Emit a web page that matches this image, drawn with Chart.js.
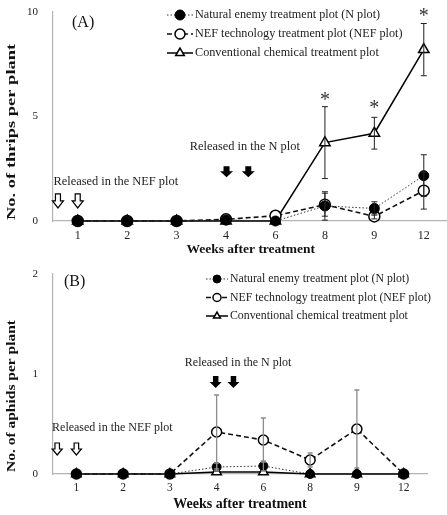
<!DOCTYPE html>
<html>
<head>
<meta charset="utf-8">
<script src="https://cdn.jsdelivr.net/npm/chart.js@4.4.0/dist/chart.umd.min.js"></script>
<style>
  html, body { margin: 0; padding: 0; background: #fff; overflow: hidden; }
  #wrap { position: relative; width: 447px; height: 515px; overflow: hidden; }
  .panel { position: absolute; left: 0; }
</style>
</head>
<body>
<div id="wrap">
  <div class="panel" style="top:0;width:456px;height:258px"><canvas id="chart-a"></canvas></div>
  <div class="panel" style="top:258px;width:447px;height:257px"><canvas id="chart-b"></canvas></div>
</div>
<script>
const weeks = ['1', '2', '3', '4', '6', '8', '9', '12'];
const seriesLabels = [
  'Natural enemy treatment plot (N plot)',
  'NEF technology treatment plot (NEF plot)',
  'Conventional chemical treatment plot'
];

// (A) thrips
const thripsN       = [0, 0, 0, 0.05, 0, 0.72, 0.6, 2.17];
const thripsNErr    = [0, 0, 0, 0, 0, 0.68, 0.32, 1.0];
const thripsNEF     = [0, 0, 0, 0.08, 0.25, 0.78, 0.22, 1.45];
const thripsNEFErr  = [0, 0, 0, 0, 0, 0.55, 0.12, 0.88];
const thripsConv    = [0, 0, 0, 0, 0, 3.75, 4.2, 8.2];
const thripsConvErr = [0, 0, 0, 0, 0, 1.72, 0.76, 1.25];
const thripsStars   = [null, null, null, null, null, 6.0, 5.6, 10.0];
const thripsTicks   = [0, 5, 10];

// (B) aphids
const aphidsN       = [0, 0, 0, 0.07, 0.08, 0, 0, 0];
const aphidsNErr    = [0, 0, 0, 0.04, 0.05, 0, 0, 0];
const aphidsNEF     = [0, 0, 0, 0.42, 0.34, 0.14, 0.45, 0];
const aphidsNEFErr  = [0, 0, 0, 0.37, 0.22, 0.07, 0.39, 0];
const aphidsConv    = [0, 0, 0, 0.02, 0.02, 0, 0, 0];
const aphidsTicks   = [0, 1, 2];

const serif = "'Liberation Serif', 'Times New Roman', serif";
const axisColor = '#b4b4b4';
const textColor = '#222';

function makeDatasets(n, nErr, nef, nefErr, conv, convErr, r) {
  return [
    {
      label: seriesLabels[0], data: n, errors: nErr,
      borderColor: '#333', borderWidth: 1, borderDash: [1.5, 2],
      pointStyle: 'circle', pointRadius: r, pointBackgroundColor: '#000',
      pointBorderColor: '#000', pointBorderWidth: 1, clip: false
    },
    {
      label: seriesLabels[1], data: nef, errors: nefErr,
      borderColor: '#111', borderWidth: 1.6, borderDash: [5, 3],
      pointStyle: 'circle', pointRadius: r + 0.5, pointBackgroundColor: '#fff',
      pointBorderColor: '#000', pointBorderWidth: 1.5, clip: false
    },
    {
      label: seriesLabels[2], data: conv, errors: convErr,
      borderColor: '#000', borderWidth: 1.5,
      pointStyle: 'triangle', pointRadius: r + 1, pointBackgroundColor: '#fff',
      pointBorderColor: '#000', pointBorderWidth: 1.5, clip: false
    }
  ];
}

function drawArrow(ctx, x, y, a) {
  const h = a.h, hh = a.hh, sw = a.sw / 2, hw = a.hw / 2;
  const top = y - h / 2, neck = top + (h - hh), tip = y + h / 2;
  ctx.beginPath();
  ctx.moveTo(x - sw, top); ctx.lineTo(x + sw, top); ctx.lineTo(x + sw, neck);
  ctx.lineTo(x + hw, neck); ctx.lineTo(x, tip); ctx.lineTo(x - hw, neck);
  ctx.lineTo(x - sw, neck); ctx.closePath();
  if (a.filled) { ctx.fillStyle = '#000'; ctx.fill(); }
  else { ctx.fillStyle = '#fff'; ctx.fill(); ctx.strokeStyle = '#000'; ctx.lineWidth = 1.2; ctx.stroke(); }
}

const extrasPlugin = {
  id: 'extras',
  afterDatasetsDraw(chart, args, o) {
    const ctx = chart.ctx, xs = chart.scales.x, ys = chart.scales.y, area = chart.chartArea;
    ctx.save();
    // error bars
    chart.data.datasets.forEach((ds, di) => {
      if (!ds.errors) return;
      const meta = chart.getDatasetMeta(di);
      ctx.strokeStyle = o.errColor; ctx.lineWidth = o.errWidth; ctx.setLineDash([]);
      ds.data.forEach((v, i) => {
        const e = ds.errors[i];
        if (!e) return;
        const x = meta.data[i].x;
        const y1 = ys.getPixelForValue(v + e), y2 = ys.getPixelForValue(Math.max(0, v - e));
        ctx.beginPath();
        ctx.moveTo(x, y1); ctx.lineTo(x, y2);
        ctx.moveTo(x - o.cap, y1); ctx.lineTo(x + o.cap, y1);
        ctx.moveTo(x - o.cap, y2); ctx.lineTo(x + o.cap, y2);
        ctx.stroke();
      });
    });
    // significance stars
    if (o.stars) {
      ctx.fillStyle = '#333'; ctx.font = '20px ' + serif; ctx.textAlign = 'center'; ctx.textBaseline = 'alphabetic';
      const m = ctx.measureText('*');
      const dy = (m.actualBoundingBoxAscent - m.actualBoundingBoxDescent) / 2;
      o.stars.forEach((v, i) => {
        if (v == null) return;
        ctx.fillText('*', xs.getPixelForValue(i), ys.getPixelForValue(v) + dy);
      });
    }
    // release arrows
    o.arrows.forEach(a => drawArrow(ctx, xs.getPixelForValue(a.x), ys.getPixelForValue(a.y), a));
    // notes
    ctx.fillStyle = textColor; ctx.textBaseline = 'middle'; ctx.textAlign = 'center';
    o.notes.forEach(n => {
      ctx.font = n.size + 'px ' + serif;
      ctx.fillText(n.text, xs.getPixelForValue(n.x), ys.getPixelForValue(n.y));
    });
    // panel label
    ctx.textAlign = 'left'; ctx.font = o.panel.size + 'px ' + serif; ctx.fillStyle = '#111';
    ctx.fillText(o.panel.text, area.left + o.panel.dx, area.top + o.panel.dy);
    // legend with line samples
    const lg = o.legend;
    chart.data.datasets.forEach((ds, di) => {
      const y = area.top + lg.dy + di * lg.row;
      const x0 = area.left + lg.dx, x1 = x0 + lg.len;
      ctx.beginPath(); ctx.setLineDash(ds.borderDash || []);
      ctx.strokeStyle = ds.borderColor; ctx.lineWidth = ds.borderWidth;
      ctx.moveTo(x0, y); ctx.lineTo(x1, y); ctx.stroke(); ctx.setLineDash([]);
      ctx.fillStyle = ds.pointBackgroundColor; ctx.strokeStyle = ds.pointBorderColor; ctx.lineWidth = ds.pointBorderWidth;
      Chart.helpers.drawPoint(ctx, { pointStyle: ds.pointStyle, rotation: 0, radius: lg.r, borderWidth: ds.pointBorderWidth }, (x0 + x1) / 2, y);
      ctx.fillStyle = textColor; ctx.font = lg.size + 'px ' + serif; ctx.textAlign = 'left'; ctx.textBaseline = 'middle';
      ctx.fillText(ds.label, x1 + 2, y);
    });
    // y axis title, stretched along its length like the original
    const t = o.yTitle;
    ctx.save();
    ctx.translate(t.x, area.bottom - t.startOffset);
    ctx.rotate(-Math.PI / 2);
    ctx.scale(t.stretch, 1);
    ctx.font = 'bold ' + t.size + 'px ' + serif; ctx.fillStyle = '#111';
    ctx.textAlign = 'left'; ctx.textBaseline = 'middle';
    ctx.fillText(t.text, 0, 0);
    ctx.restore();
    ctx.restore();
  }
};

function makeChart(id, cfg) {
  return new Chart(document.getElementById(id), {
    type: 'line',
    data: { labels: weeks, datasets: cfg.datasets },
    plugins: [extrasPlugin],
    options: {
      responsive: true,
      maintainAspectRatio: false,
      animation: false,
      layout: { padding: { top: cfg.top, left: 0, right: cfg.right, bottom: 0 } },
      plugins: { legend: { display: false }, tooltip: { enabled: false }, extras: cfg.extras },
      scales: {
        x: {
          type: 'category', offset: true,
          grid: { display: false, drawTicks: false },
          border: { display: true, color: axisColor, width: 1.2 },
          ticks: { color: textColor, padding: cfg.xPad, font: { family: serif, size: cfg.xTick } },
          title: { display: true, text: 'Weeks after treatment', color: '#111', padding: { top: 0, bottom: cfg.titlePad },
                   font: { family: serif, size: cfg.xTitle, weight: 'bold' } },
          afterFit: s => { s.height = cfg.xHeight; s.paddingLeft = 0; s.paddingRight = 0; }
        },
        y: {
          min: 0, max: cfg.max,
          grid: { display: false, drawTicks: false },
          border: { display: true, color: axisColor, width: 1.2 },
          ticks: { color: textColor, padding: 15, font: { family: serif, size: 11 } },
          afterBuildTicks: s => { s.ticks = cfg.ticks.map(v => ({ value: v })); },
          afterFit: s => { s.width = 53; s.paddingTop = 0; s.paddingBottom = 0; }
        }
      }
    }
  });
}

makeChart('chart-a', {
  datasets: makeDatasets(thripsN, thripsNErr, thripsNEF, thripsNEFErr, thripsConv, thripsConvErr, 5),
  max: 10, ticks: thripsTicks, top: 12, right: 0, xHeight: 37, xPad: 8, xTick: 12, xTitle: 13.5, titlePad: 0,
  extras: {
    errColor: '#222', errWidth: 1, cap: 3, stars: thripsStars,
    arrows: [
      { x: -0.4, y: 0.96, filled: false, h: 14, hh: 7, sw: 5, hw: 11 },
      { x: 0, y: 0.96, filled: false, h: 14, hh: 7, sw: 5, hw: 11 },
      { x: 3.01, y: 2.36, filled: true, h: 11, hh: 6, sw: 6, hw: 13 },
      { x: 3.45, y: 2.36, filled: true, h: 11, hh: 6, sw: 6, hw: 13 }
    ],
    notes: [
      { text: 'Released in the NEF plot', x: 0.77, y: 1.87, size: 12.4 },
      { text: 'Released in the N plot', x: 3.38, y: 3.54, size: 12.4 }
    ],
    panel: { text: '(A)', size: 16, dx: 19, dy: 11 },
    legend: { dx: 114, dy: 3, row: 19, len: 26, r: 5, size: 12.2 },
    yTitle: { text: 'No. of thrips per plant', x: 12, startOffset: 1, size: 13.5, stretch: 1.37 }
  }
});

makeChart('chart-b', {
  datasets: makeDatasets(aphidsN, aphidsNErr, aphidsNEF, aphidsNEFErr, aphidsConv, null, 4.5),
  max: 2, ticks: aphidsTicks, top: 16, right: 20, xHeight: 41, xPad: 7, xTick: 11.5, xTitle: 14, titlePad: 2.5,
  extras: {
    errColor: '#8c8c8c', errWidth: 1.3, cap: 2.5, stars: null,
    arrows: [
      { x: -0.41, y: 0.25, filled: false, h: 12, hh: 6, sw: 4.5, hw: 10 },
      { x: 0, y: 0.25, filled: false, h: 12, hh: 6, sw: 4.5, hw: 10 },
      { x: 2.98, y: 0.92, filled: true, h: 12, hh: 6, sw: 5.5, hw: 12 },
      { x: 3.36, y: 0.92, filled: true, h: 12, hh: 6, sw: 5.5, hw: 12 }
    ],
    notes: [
      { text: 'Released in the NEF plot', x: 0.77, y: 0.46, size: 12 },
      { text: 'Released in the N plot', x: 3.46, y: 1.11, size: 12 }
    ],
    panel: { text: '(B)', size: 16, dx: 11, dy: 8 },
    legend: { dx: 153, dy: 5, row: 18.5, len: 22, r: 4, size: 11.8 },
    yTitle: { text: 'No. of aphids per plant', x: 12, startOffset: 2, size: 12.5, stretch: 1.24 }
  }
});
</script>
</body>
</html>
